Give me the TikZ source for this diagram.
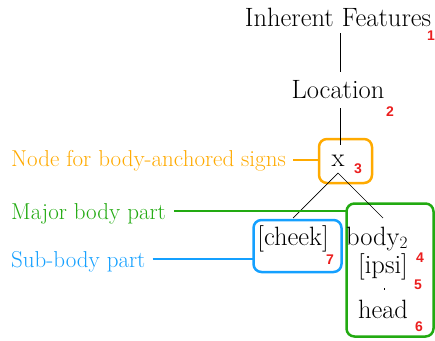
\documentclass[tikz,border=0pt]{standalone}
\usepackage{fontspec}
\newfontfamily\numfont{Liberation Sans}
\definecolor{cOr}{RGB}{255,170,0}
\definecolor{cGr}{RGB}{34,170,17}
\definecolor{cBl}{RGB}{20,160,255}
\definecolor{cRd}{RGB}{235,30,30}
\begin{document}
\begin{tikzpicture}[x=1pt,y=-1pt,
  tree/.style={font=\fontsize{26.5}{30}\selectfont, inner sep=0pt, anchor=base},
  lab/.style={font=\fontsize{23}{26}\selectfont, inner sep=0pt, anchor=base west},
  num/.style={font=\numfont\bfseries\fontsize{14}{16}\selectfont, text=cRd, inner sep=0pt, anchor=base},
  box/.style={draw, line width=2.5pt, rounded corners=8pt, inner sep=0pt},
  tline/.style={line width=0.7pt},
  lline/.style={line width=2pt}]
\useasboundingbox (0,0) rectangle (435,340);
% boxes
\node[box, draw=cOr, minimum width=53pt, minimum height=44pt] (obox) at (345.5,161) {};
\node[box, draw=cBl, minimum width=88pt, minimum height=52pt] (bbox) at (297.5,246) {};
\node[box, draw=cGr, minimum width=87pt, minimum height=133pt] (gbox) at (390,270) {};
% tree text
\node[tree] (inh) at (338,26) {Inherent Features};
\node[tree] (loc) at (338,98) {Location};
\node[tree] (x) at (338,166) {x};
\node[tree] (cheek) at (293,245) {[cheek]};
\node[tree] (body) at (377,245) {body$_2$};
\node[tree] (ipsi) at (383,273) {[ipsi]};
\node[tree] (head) at (383,318) {head};
% numbers
\node[num] (n1) at (431,40) {1};
\node[num] (n2) at (390,116) {2};
\node[num] (n3) at (358,173) {3};
\node[num] (n7) at (330,264) {7};
\node[num] (n4) at (420,262) {4};
\node[num] (n5) at (418,289) {5};
\node[num] (n6) at (419,331) {6};
% tree connectors
\coordinate (c1) at (340,33);
\coordinate (c2) at (340,72);
\coordinate (c3) at (340,108);
\coordinate (c4) at (340,145);
\coordinate (c5) at (338,173);
\coordinate (c6) at (293,218);
\coordinate (c7) at (383,218);
\coordinate (c8) at (384,288);
\coordinate (c9) at (384,290);
\draw[tline] (c1) -- (c2);
\draw[tline] (c3) -- (c4);
\draw[tline] (c6) -- (c5) -- (c7);
\draw[line width=0.6pt] (c8) -- (c9);
% labels
\node[lab, text=cOr] (lo) at (11,166) {Node for body-anchored signs};
\node[lab, text=cGr] (lg) at (11,219) {Major body part};
\node[lab, text=cBl] (lb) at (11,267) {Sub-body part};
\coordinate (go) at (319,160);
\coordinate (gg) at (347,211);
\coordinate (gb) at (254,259);
\draw[lline, cOr] (lo.east |- go) ++(7,0) -- (go);
\draw[lline, cGr] (lg.east |- gg) ++(8,0) -- (gg);
\draw[lline, cBl] (lb.east |- gb) ++(7,0) -- (gb);
\end{tikzpicture}
\end{document}
